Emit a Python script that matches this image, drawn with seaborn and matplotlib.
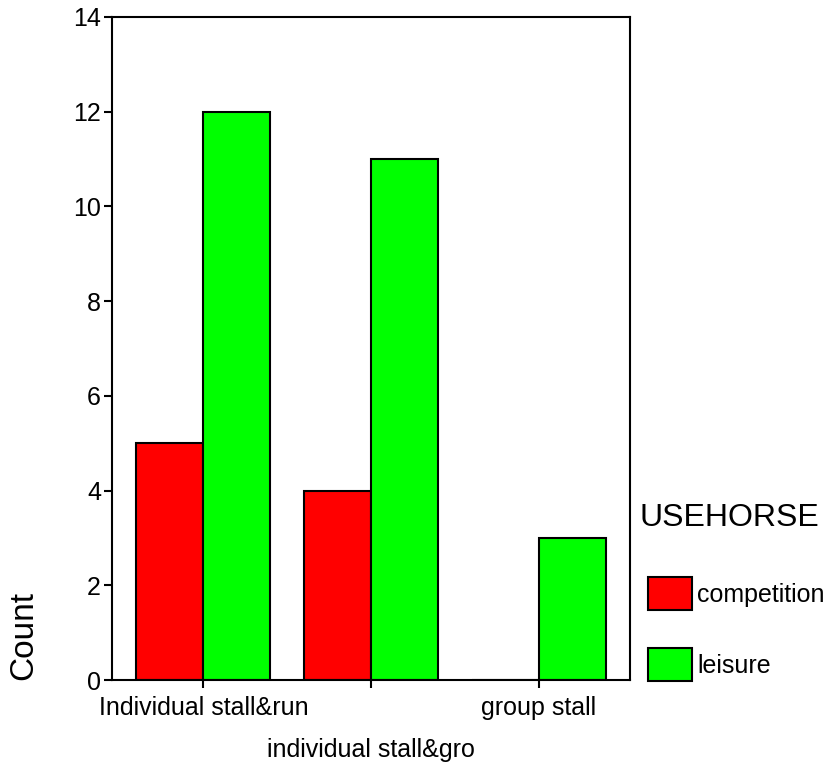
import matplotlib
matplotlib.use("Agg")
import matplotlib.pyplot as plt
import seaborn as sns
import pandas as pd

categories = ["Individual stall&run", "individual stall&gro", "group stall"]
hue_levels = ["competition", "leisure"]
competition = [5, 4, 0]
leisure = [12, 11, 3]
colors = ["#ff0000", "#00ff00"]

df = pd.DataFrame({
    "housing": categories * 2,
    "USEHORSE": ["competition"] * 3 + ["leisure"] * 3,
    "Count": competition + leisure,
})

sns.set_theme(style="white")
plt.rcParams["font.family"] = ["Liberation Sans", "DejaVu Sans"]
plt.rcParams["text.color"] = "black"

fig = plt.figure(figsize=(8.31, 7.67), dpi=100)
ax = fig.add_axes([112 / 831, 1 - 680 / 767, (630 - 112) / 831, (680 - 17) / 767])

sns.barplot(data=df, x="housing", y="Count", hue="USEHORSE", order=categories,
            hue_order=hue_levels, palette=colors, width=0.8, saturation=1,
            edgecolor="black", linewidth=1.5, ax=ax, errorbar=None)

ax.set_xlim(-0.546, 2.546)
ax.set_ylim(0, 14)
ax.set_yticks([0, 2, 4, 6, 8, 10, 12, 14])
ax.tick_params(axis="both", direction="out", length=6, width=1.5, color="black",
               labelsize=18, labelcolor="black", left=True, bottom=True)
ax.tick_params(axis="y", pad=2)
for s in ax.spines.values():
    s.set_color("black")
    s.set_linewidth(1.5)
ax.set_xlabel("")
ax.set_ylabel("")
ticks = ax.xaxis.get_major_ticks()
for i, t in enumerate(ticks):
    t.set_pad(5.5 if i != 1 else 35.5)

fig.text(24 / 831, 1 - 635 / 767, "Count", rotation=90, fontsize=24,
         ha="center", va="center", color="black")

fig.text(640 / 831, 1 - 518 / 767, "USEHORSE", fontsize=23,
         ha="left", va="center", color="black")

leg = ax.get_legend()
handles = leg.legend_handles
leg.remove()
lg = fig.legend(handles, hue_levels, loc="upper left",
                bbox_to_anchor=(648 / 831, 1 - 577 / 767), frameon=False,
                fontsize=18, handlelength=1.76, handleheight=1.654,
                handletextpad=0.2, labelspacing=1.52,
                borderaxespad=0, borderpad=0)
for t in lg.get_texts():
    t.set_color("black")

fig.savefig("out.png", dpi=100)
